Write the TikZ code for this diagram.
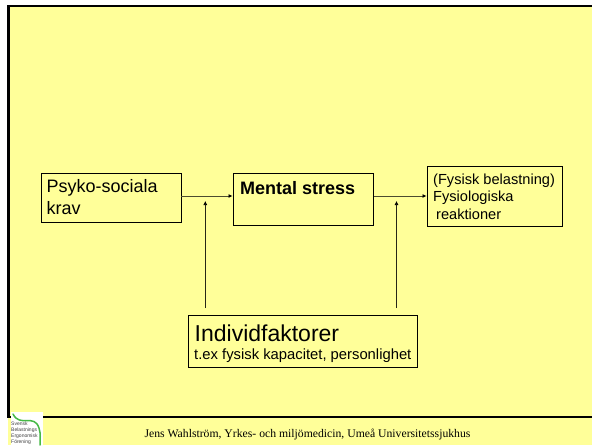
\documentclass[tikz,border=0pt]{standalone}
\usepackage{fontspec}
\setmainfont{Liberation Serif}
\newfontfamily\arialf{Liberation Sans}
\definecolor{bgy}{HTML}{FFFF99}
\usetikzlibrary{arrows.meta}
\tikzset{
  x=1pt,y=-1pt,
  box/.style={draw=black,line width=0.7pt,fill=bgy,inner sep=0pt,anchor=north west,font=\arialf},
  conn/.style={draw=black!70!bgy,line width=0.7pt,-{Latex[length=4pt,width=4pt,black]}},
  vconn/.style={draw=black!85!bgy,line width=0.6pt,-{Latex[length=4pt,width=4pt,black]}},
}
\begin{document}
\begin{tikzpicture}
\useasboundingbox (0,0) rectangle (592,445);
\fill[white] (0,0) rectangle (592,445);
\fill[bgy] (8,6) rectangle (592,445);
\draw[line width=2.2pt,black] (592,6) -- (8.5,6) -- (8.5,417) -- (592,417);
% boxes
\node[box,minimum width=140pt,minimum height=49.5pt] (psy) at (40.5,172.5) {};
\node[anchor=north west,inner sep=0pt,font=\arialf\fontsize{18}{22}\selectfont,align=left] (psyt) at (46.5,179) {Psyko-sociala\\krav};
\node[box,line width=1.8pt,minimum width=140pt,minimum height=52pt] (men) at (232.5,172.5) {};
\node[anchor=base west,inner sep=0pt,font=\arialf\bfseries\fontsize{18}{20}\selectfont] (ment) at (240,194.5) {Mental stress};
\node[box,minimum width=135.5pt,minimum height=60pt] (fys) at (426.5,166) {};
\node[anchor=north west,inner sep=0pt,font=\arialf\fontsize{14.6}{17.5}\selectfont,align=left] (fyst) at (433,173.5) {(Fysisk belastning)\\Fysiologiska\\\hspace*{3pt}reaktioner};
\node[box,minimum width=229.5pt,minimum height=52pt] (ind) at (187.5,315) {};
\node[anchor=base west,inner sep=0pt,font=\arialf\fontsize{23}{23}\selectfont] (indt) at (194.5,341) {Individfaktorer};
\node[anchor=base west,inner sep=0pt,font=\arialf\fontsize{14.8}{15}\selectfont] (indt2) at (194,359.5) {t.ex fysisk kapacitet, personlighet};
% connectors
\draw[conn] (psy.east |- 0,196) -- (men.west |- 0,196);
\draw[conn] (men.east |- 0,196) -- (fys.west |- 0,196);
\coordinate (a1) at (205.3,308);
\coordinate (a2) at (205.3,201);
\coordinate (b1) at (396.5,308);
\coordinate (b2) at (396.5,201);
\draw[vconn] (a1) -- (a2);
\draw[vconn] (b1) -- (b2);
% footer
\node[anchor=base,inner sep=0pt,font=\fontsize{11.7}{14}\selectfont] (foot) at (307.5,437) {Jens Wahlström, Yrkes- och miljömedicin, Umeå Universitetssjukhus};
% logo
\fill[white] (11,412) rectangle (43,445);
\draw[line width=1.5pt,green!45!gray,line cap=round] (13,414) .. controls (20,428) and (34,413) .. (39,428) .. controls (41,434) and (40,440) .. (40,445);
\node[anchor=north west,inner sep=0pt,align=left,font=\arialf\fontsize{5}{6}\selectfont,text=black!75] (logo) at (11,421.5) {Svensk\\Belastnings\\Ergonomisk\\Förening};
\end{tikzpicture}
\end{document}
